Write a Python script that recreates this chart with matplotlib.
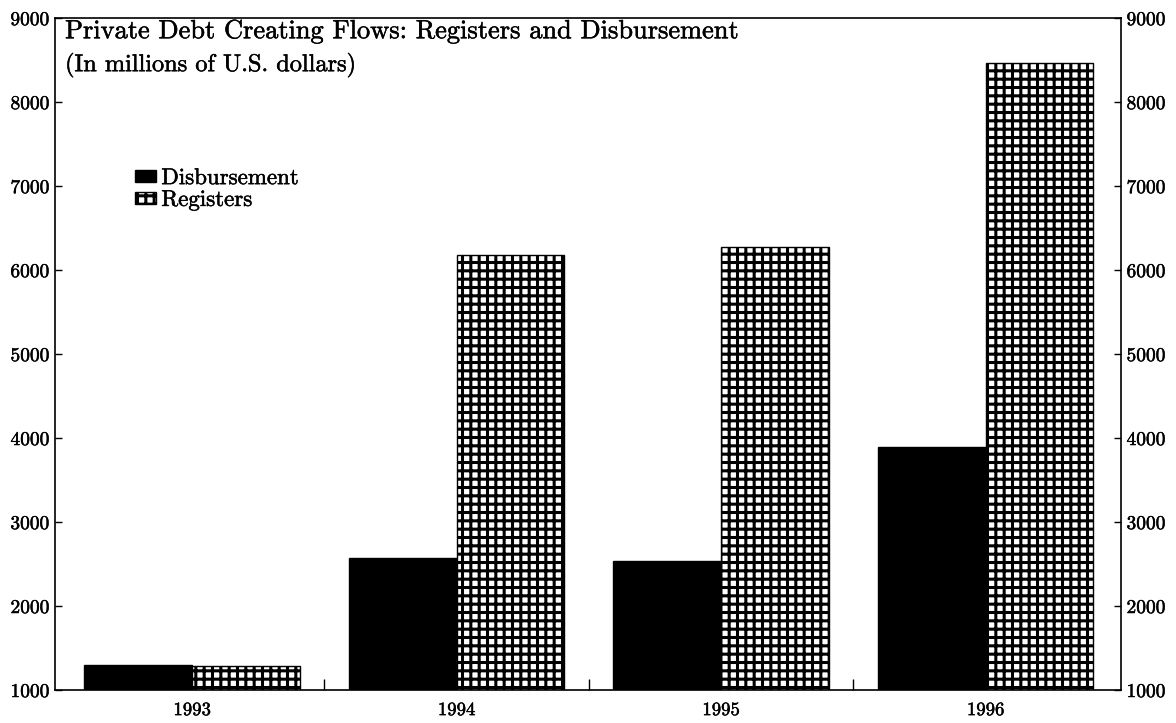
import numpy as np
import matplotlib.pyplot as plt
import matplotlib.patheffects as pe
from matplotlib.patches import Patch

# values (millions of US$)
years = ['1993', '1994', '1995', '1996']
disbursement = [1300, 2570, 2540, 3890]
registers = [1290, 6180, 6270, 8470]
yticks = [1000, 2000, 3000, 4000, 5000, 6000, 7000, 8000, 9000]

plt.rcParams['font.family'] = ['cmr10', 'DejaVu Serif']
plt.rcParams['hatch.linewidth'] = 2.2
plt.rcParams['axes.formatter.use_mathtext'] = True

# scanned print looks a little heavier than plain cmr10
thick = [pe.withStroke(linewidth=0.35, foreground='black')]

fig = plt.figure(figsize=(11.76, 7.23), dpi=100)
ax = fig.add_axes([0.0468, 0.0456, 0.9064, 0.9294])

x = np.arange(len(years))
w = 0.408
ax.bar(x - w / 2, np.array(disbursement) - 1000, w, bottom=1000,
       color='black', edgecolor='black', linewidth=1)
ax.bar(x + w / 2, np.array(registers) - 1000, w, bottom=1000,
       color='white', edgecolor='black', linewidth=1, hatch='++')

ax.set_xlim(-0.518, 3.512)
ax.set_ylim(1000, 9000)

# y axis on both sides, small inward ticks
ax.set_yticks(yticks)
ax.set_yticklabels([str(v) for v in yticks])
ax.tick_params(axis='y', which='both', direction='in', length=5, width=1,
               left=True, right=True, labelleft=True, labelright=True,
               labelsize=14, pad=4)

# year labels under the group, small ticks between groups
ax.set_xticks(x)
ax.set_xticklabels(years)
ax.set_xticks([0.5, 1.5, 2.5], minor=True)
ax.tick_params(axis='x', which='major', length=0, labelsize=13.5, pad=8)
ax.tick_params(axis='x', which='minor', direction='in', length=8, width=1)

for lab in ax.get_xticklabels() + ax.get_yticklabels():
    lab.set_path_effects(thick)
for t in ax.yaxis.get_major_ticks():
    t.label2.set_path_effects(thick)

for s in ax.spines.values():
    s.set_linewidth(1.2)

ax.text(0.0094, 0.970, 'Private Debt Creating Flows: Registers and Disbursement',
        transform=ax.transAxes, ha='left', va='baseline', fontsize=19,
        path_effects=thick)
ax.text(0.0094, 0.921, '(In millions of U.S. dollars)',
        transform=ax.transAxes, ha='left', va='baseline', fontsize=17.5,
        path_effects=thick)

handles = [Patch(facecolor='black', edgecolor='black', label='Disbursement'),
           Patch(facecolor='white', edgecolor='black', hatch='++', label='Registers')]
leg = ax.legend(handles=handles, loc='upper left', bbox_to_anchor=(0.075, 0.776),
                frameon=False, fontsize=16.5, handlelength=0.9, handleheight=0.4,
                handletextpad=0.25, labelspacing=0.1, borderpad=0, borderaxespad=0)
for t in leg.get_texts():
    t.set_path_effects(thick)

fig.savefig('out.png', dpi=100)
